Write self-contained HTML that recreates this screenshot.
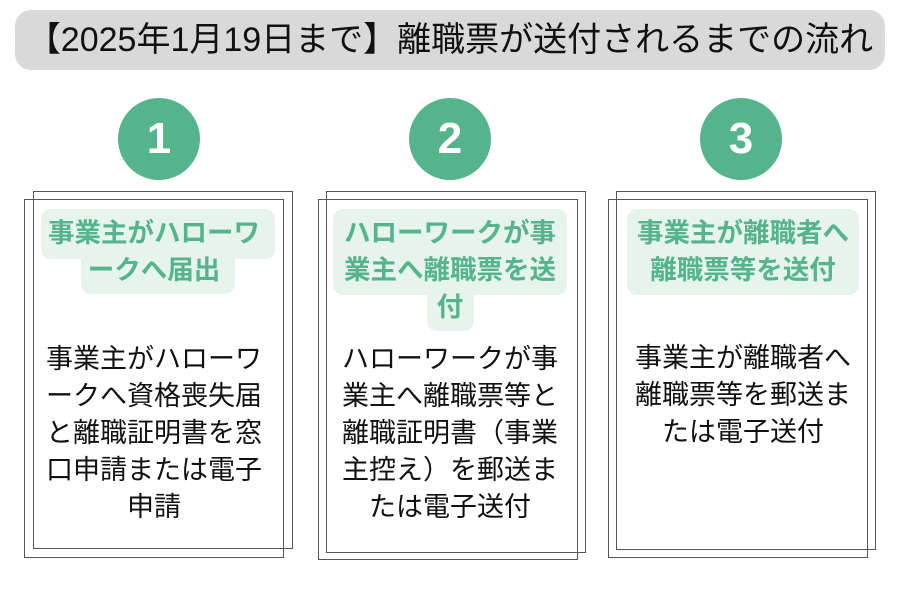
<!DOCTYPE html>
<html><head><meta charset="utf-8"><style>
body{margin:0;width:900px;height:600px;background:#fff;position:relative;overflow:hidden;font-family:"Liberation Sans","Noto Sans CJK JP",sans-serif;}
.a{position:absolute;}
.title{left:15px;top:10px;width:870px;height:60px;background:#d9d9d9;border-radius:16px;text-align:center;line-height:60px;font-size:34px;color:#111;white-space:nowrap;}
.c{width:82px;height:82px;border-radius:50%;background:#55b48c;color:#fff;font-weight:bold;font-size:44px;text-align:center;line-height:82px;}
.r{border:1px solid #555;box-sizing:border-box;}
.hb{background:#e6f4ec;border-radius:10px;}
.ht{color:#55b48c;font-weight:bold;font-size:26.5px;text-align:center;white-space:nowrap;line-height:37px;}
.bt{color:#111;font-size:27px;text-align:center;line-height:37px;white-space:nowrap;}
</style></head><body>
<div class="a title">【2025年1月19日まで】離職票が送付されるまでの流れ</div>

<div class="a c" style="left:118px;top:98px">1</div>
<div class="a c" style="left:409px;top:98px">2</div>
<div class="a c" style="left:700px;top:98px">3</div>

<div class="a r" style="left:33px;top:191px;width:260px;height:358px"></div>
<div class="a r" style="left:24px;top:199px;width:260px;height:359px"></div>
<div class="a r" style="left:326px;top:191px;width:260px;height:362px"></div>
<div class="a r" style="left:318px;top:199px;width:260px;height:361px"></div>
<div class="a r" style="left:616px;top:191px;width:260px;height:359px"></div>
<div class="a r" style="left:608px;top:199px;width:260px;height:359px"></div>

<div class="a hb" style="left:41px;top:209px;width:234px;height:50px"></div>
<div class="a hb" style="left:81px;top:250px;width:154px;height:44px"></div>
<div class="a ht" style="left:24px;top:215px;width:260px">事業主がハローワ<br>ークへ届出</div>

<div class="a hb" style="left:333px;top:209px;width:234px;height:86px"></div>
<div class="a hb" style="left:427px;top:285px;width:47px;height:46px"></div>
<div class="a ht" style="left:318px;top:215px;width:264px">ハローワークが事<br>業主へ離職票を送<br>付</div>

<div class="a hb" style="left:627px;top:209px;width:232px;height:86px"></div>
<div class="a ht" style="left:608px;top:215px;width:270px">事業主が離職者へ<br>離職票等を送付</div>

<div class="a bt" style="left:24px;top:341px;width:260px">事業主がハローワ<br>ークへ資格喪失届<br>と離職証明書を窓<br>口申請または電子<br>申請</div>
<div class="a bt" style="left:318px;top:341px;width:264px">ハローワークが事<br>業主へ離職票等と<br>離職証明書（事業<br>主控え）を郵送ま<br>たは電子送付</div>
<div class="a bt" style="left:608px;top:340px;width:270px">事業主が離職者へ<br>離職票等を郵送ま<br>たは電子送付</div>
</body></html>
